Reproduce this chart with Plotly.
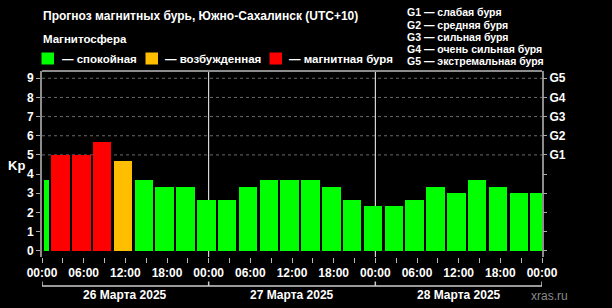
import plotly.graph_objects as go
import pandas as pd

# ---------------- data ----------------
title_text = "Прогноз магнитных бурь, Южно-Сахалинск (UTC+10)"
section_text = "Магнитосфера"
interval_starts = [
    "2025-03-25 22:00",
    "2025-03-26 01:00", "2025-03-26 04:00", "2025-03-26 07:00", "2025-03-26 10:00",
    "2025-03-26 13:00", "2025-03-26 16:00", "2025-03-26 19:00", "2025-03-26 22:00",
    "2025-03-27 01:00", "2025-03-27 04:00", "2025-03-27 07:00", "2025-03-27 10:00",
    "2025-03-27 13:00", "2025-03-27 16:00", "2025-03-27 19:00", "2025-03-27 22:00",
    "2025-03-28 01:00", "2025-03-28 04:00", "2025-03-28 07:00", "2025-03-28 10:00",
    "2025-03-28 13:00", "2025-03-28 16:00", "2025-03-28 19:00", "2025-03-28 22:00",
]
kp_values = [
    3.67,
    5.0, 5.0, 5.67, 4.67, 3.67, 3.33, 3.33, 2.67,
    2.67, 3.33, 3.67, 3.67, 3.67, 3.33, 2.67, 2.33,
    2.33, 2.67, 3.33, 3.0, 3.67, 3.33, 3.0, 3.0,
]
interval_hours = 3
days = ["2025-03-26", "2025-03-27", "2025-03-28"]
day_labels = ["26 Марта 2025", "27 Марта 2025", "28 Марта 2025"]
kp_ticks = [0, 1, 2, 3, 4, 5, 6, 7, 8, 9]
g_levels = [5, 6, 7, 8, 9]
g_labels = ["G1", "G2", "G3", "G4", "G5"]
g_legend = ["G1 — слабая буря", "G2 — средняя буря", "G3 — сильная буря",
            "G4 — очень сильная буря", "G5 — экстремальная буря"]
state_labels = ["— спокойная", "— возбужденная", "— магнитная буря"]
state_colors = ["#00ff00", "#ffbf00", "#ff0000"]
source_text = "xras.ru"

# ---------------- layout geometry (pixels) ----------------
W, H = 612, 308
L, R, T, B = 42, 70, 71, 51
PW, PH = W - L - R, H - T - B


def px_x(px):
    return (px - L) / PW


def px_y(py):
    return (H - B - py) / PH


FONT = "Liberation Sans, Arial, sans-serif"

win_start = pd.Timestamp(days[0])
win_end = pd.Timestamp(days[-1]) + pd.Timedelta(days=1)
gap = pd.Timedelta(minutes=20)

mids, widths, colors = [], [], []
for s_str, kp in zip(interval_starts, kp_values):
    s = pd.Timestamp(s_str)
    e = s + pd.Timedelta(hours=interval_hours)
    s = max(s, win_start)
    e = min(e, win_end)
    s = s + gap
    mids.append(s + (e - s) / 2)
    widths.append((e - s).total_seconds() * 1000)
    if kp >= 5:
        colors.append(state_colors[2])
    elif kp >= 4:
        colors.append(state_colors[1])
    else:
        colors.append(state_colors[0])

fig = go.Figure()
fig.add_trace(go.Bar(x=mids, y=kp_values, width=widths,
                     marker=dict(color=colors, line=dict(width=0)),
                     hoverinfo="skip", showlegend=False))
fig.add_trace(go.Scatter(x=[win_start], y=[0], yaxis="y2", mode="markers",
                         marker=dict(opacity=0), hoverinfo="skip", showlegend=False))

shapes = []
# dotted gridlines at storm levels
for lv in g_levels:
    shapes.append(dict(type="line", xref="paper", yref="y", x0=0, x1=1, y0=lv, y1=lv,
                       line=dict(color="#6a6a6a", width=1, dash="dot"), layer="below"))
# day separators
for d in days[1:]:
    shapes.append(dict(type="line", xref="x", yref="paper", x0=d, x1=d, y0=0, y1=1,
                       line=dict(color="#ffffff", width=1), layer="below"))
# top frame
shapes.append(dict(type="line", xref="paper", yref="paper", x0=0, x1=1, y0=1, y1=1,
                   line=dict(color="#8c8c8c", width=2)))
# day brackets under axis
shapes.append(dict(type="line", xref="x", yref="paper", x0=win_start, x1=win_end,
                   y0=px_y(286), y1=px_y(286), line=dict(color="#cccccc", width=1.5)))
for d in days + [win_end]:
    shapes.append(dict(type="line", xref="x", yref="paper", x0=d, x1=d,
                       y0=px_y(286), y1=px_y(281.5), line=dict(color="#cccccc", width=1.5)))
# legend squares
sq_left = [41.5, 145.5, 269.5]
for xl, c in zip(sq_left, state_colors):
    shapes.append(dict(type="rect", xref="paper", yref="paper",
                       x0=px_x(xl), x1=px_x(xl + 12.5), y0=px_y(64.5), y1=px_y(52.5),
                       fillcolor=c, line=dict(width=0)))

annotations = []
annotations.append(dict(text=title_text, xref="paper", yref="paper", x=px_x(41), y=px_y(16),
                        xanchor="left", yanchor="middle", showarrow=False,
                        font=dict(family=FONT, size=12, color="white", weight="bold")))
annotations.append(dict(text=section_text, xref="paper", yref="paper", x=px_x(41), y=px_y(39),
                        xanchor="left", yanchor="middle", showarrow=False,
                        font=dict(family=FONT, size=11.5, color="white", weight="bold")))
txt_left = [60, 163, 287]
for xl, t in zip(txt_left, state_labels):
    annotations.append(dict(text=t, xref="paper", yref="paper", x=px_x(xl), y=px_y(58.5),
                            xanchor="left", yanchor="middle", showarrow=False,
                            font=dict(family=FONT, size=11.5, color="white", weight="bold")))
for i, t in enumerate(g_legend):
    annotations.append(dict(text=t, xref="paper", yref="paper", x=px_x(405), y=px_y(12.3 + 12.25 * i),
                            xanchor="left", yanchor="middle", showarrow=False,
                            font=dict(family=FONT, size=10.5, color="white", weight="bold")))
for d, t in zip(days, day_labels):
    annotations.append(dict(text=t, xref="x", yref="paper",
                            x=pd.Timestamp(d) + pd.Timedelta(hours=12), y=px_y(295),
                            xanchor="center", yanchor="middle", showarrow=False,
                            font=dict(family=FONT, size=12, color="white", weight="bold")))
annotations.append(dict(text=source_text, xref="paper", yref="paper", x=px_x(529), y=px_y(296),
                        xanchor="left", yanchor="middle", showarrow=False,
                        font=dict(family=FONT, size=12, color="#8a8a8a")))
annotations.append(dict(text="Kp", xref="paper", yref="paper", x=px_x(16), y=px_y(165),
                        xanchor="center", yanchor="middle", showarrow=False,
                        font=dict(family=FONT, size=13, color="white", weight="bold")))

y_range = [-0.33, 9.38]
tick_font = dict(family=FONT, size=12, color="white", weight="bold")

fig.update_layout(
    width=W, height=H,
    margin=dict(l=L, r=R, t=T, b=B, pad=0),
    paper_bgcolor="black", plot_bgcolor="black",
    bargap=0,
    showlegend=False,
    xaxis=dict(type="date", range=[win_start, win_end],
               tick0=win_start, dtick=6 * 3600 * 1000, tickformat="%H:%M",
               ticks="outside", ticklen=5, tickcolor="#bbbbbb", tickwidth=1,
               tickfont=tick_font, showgrid=False, zeroline=False, showline=False,
               minor=dict(dtick=3 * 3600 * 1000, ticks="outside", ticklen=5,
                          tickcolor="#bbbbbb", showgrid=False),
               fixedrange=True),
    yaxis=dict(range=y_range, tickvals=kp_ticks, ticktext=[str(v) for v in kp_ticks],
               ticks="outside", ticklen=4, tickcolor="#aaaaaa",
               tickfont=tick_font, showgrid=False, zeroline=False,
               showline=True, linecolor="#8c8c8c", linewidth=2, mirror=True,
               fixedrange=True),
    yaxis2=dict(range=y_range, overlaying="y", side="right",
                tickvals=kp_ticks,
                ticktext=[g_labels[g_levels.index(v)] if v in g_levels else "" for v in kp_ticks],
                ticks="outside", ticklen=4, tickcolor="#aaaaaa",
                tickfont=tick_font, showgrid=False, zeroline=False, showline=False,
                fixedrange=True),
    shapes=shapes,
    annotations=annotations,
)

fig.write_html("out.html")
